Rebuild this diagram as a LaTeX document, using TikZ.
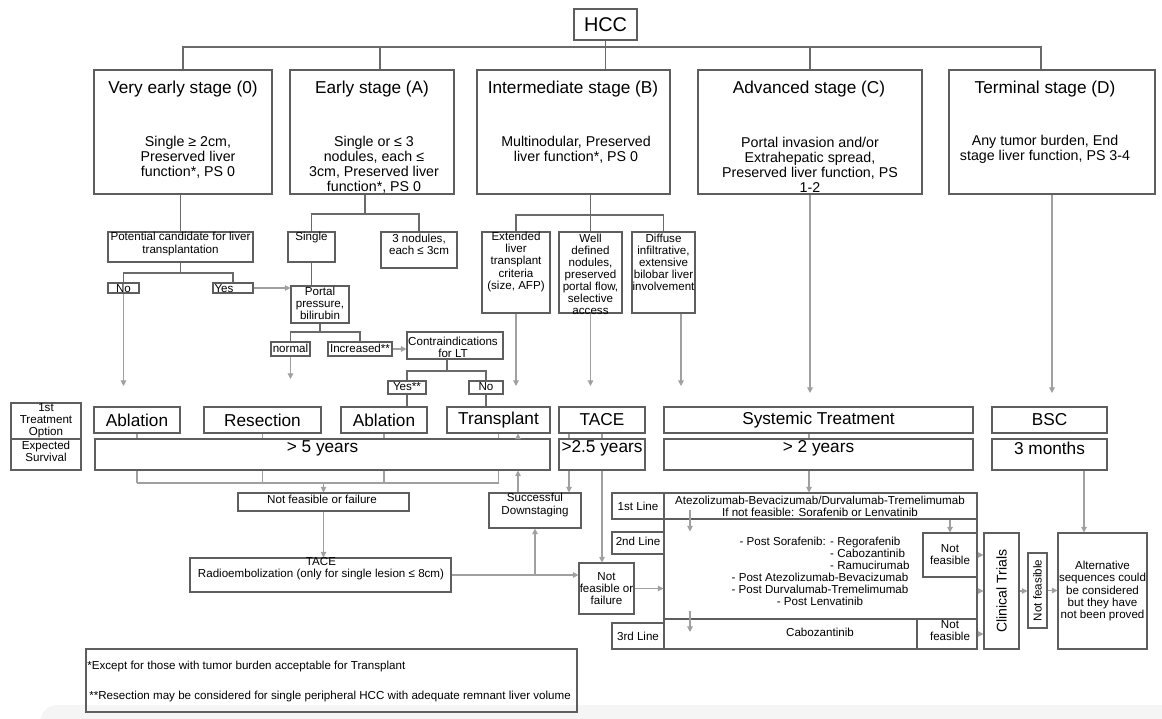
\documentclass[tikz,border=0pt]{standalone}
\usepackage{fontspec}
\setmainfont{Liberation Sans}
\usetikzlibrary{fit,arrows.meta}
\definecolor{boxline}{HTML}{5E5E5E}
\definecolor{treeline}{HTML}{6A6A6A}
\definecolor{arrline}{HTML}{A0A0A0}
\begin{document}
\begin{tikzpicture}[x=0.02cm, y=-0.02cm,
    box/.style={draw=boxline, line width=0.6pt, inner sep=0pt},
    txt/.style={inner sep=0pt, align=center},
    big/.style={txt, font=\fontsize{9.8}{11}\selectfont},
    mid/.style={txt, font=\fontsize{8.1}{8.5}\selectfont},
    sml/.style={txt, font=\fontsize{6.6}{6.85}\selectfont},
    tree/.style={draw=treeline, line width=0.6pt},
    ln/.style={draw=arrline, line width=0.6pt},
    arr/.style={draw=arrline, line width=0.6pt, -{Triangle[width=3.2pt,length=3.2pt]}}]
  \useasboundingbox (0,0) rectangle (1162,719);
  \begin{scope}
    \clip (0,0) rectangle (1162,719);
    \fill[black!4, rounded corners=10pt] (40,705) rectangle (1200,760);
  \end{scope}
  % helper levels
  \coordinate (bus) at (0,47);
  \coordinate (tips) at (0,386);
  \coordinate (tipsl) at (0,393);
  \coordinate (tipn) at (0,379);
  \coordinate (lowbus) at (0,483);
  \coordinate (survy) at (0,448);
  \coordinate (dAx) at (380,0);
  \coordinate (dDx) at (1041,0);

  % HCC and stages
  \node[box, fit={(574,9) (637,40)}] (hcc) {};
  \node[txt, font=\fontsize{11.3}{12}\selectfont] (hcct) at (hcc) {HCC};
  \node[box, fit={(94,70) (272,194)}] (s0) {};
  \node[box, fit={(290,70) (454,194)}] (sA) {};
  \node[box, fit={(477,70) (670,194)}] (sB) {};
  \node[box, fit={(698,70) (922,194)}] (sC) {};
  \node[box, fit={(949,70) (1155,194)}] (sD) {};
  \node[big] (s0t) at (183,89) {Very early stage (0)};
  \node[big] (sAt) at (372,89) {Early stage (A)};
  \node[big] (sBt) at (573,89) {Intermediate stage (B)};
  \node[big] (sCt) at (809,89) {Advanced stage (C)};
  \node[big] (sDt) at (1045,89) {Terminal stage (D)};
  \node[mid] (s0b) at (188,157) {Single ≥ 2cm,\\Preserved liver\\function*, PS 0};
  \node[mid] (sAb) at (374,165) {Single or ≤ 3\\nodules, each ≤\\3cm, Preserved liver\\function*, PS 0};
  \node[mid] (sBb) at (576,149.5) {Multinodular, Preserved\\liver function*, PS 0};
  \node[mid] (sCb) at (810,165) {Portal invasion and/or\\Extrahepatic spread,\\Preserved liver function, PS\\1-2};
  \node[mid] (sDb) at (1045,149.5) {Any tumor burden, End\\stage liver function, PS 3-4};
  \draw[tree] (s0.north) |- (hcc.south |- bus) -| (sD.north -| dDx);
  \draw[tree] (hcc.south) -- (hcc.south |- sB.north);
  \draw[tree] (sA.north -| dAx) -- (bus -| dAx);
  \draw[tree] (sC.north) -- (sC.north |- bus);

  % very early branch
  \node[box, fit={(108,232) (253,262)}] (pc) {};
  \node[sml] (pct) at (180.5,244) {Potential candidate for liver\\transplantation};
  \node[box, fit={(108,283) (139,293)}] (no1) {};
  \node[sml] (no1t) at (123.5,289) {No};
  \node[box, fit={(213,283) (253,293)}] (yes1) {};
  \node[sml] (yes1t) at (224,289) {Yes};
  \coordinate (pcb) at (0,273);
  \draw[tree] (pc.north) -- (pc.north |- s0.south);
  \draw[tree] (pc.south) -- (pc.south |- pcb);
  \draw[tree] (no1.north) |- (pcb -| pc.south) -| (yes1.north);
  \draw[arr] (no1.south) -- (no1.south |- tips);

  % early branch
  \node[box, fit={(288,232) (335,262)}] (single) {};
  \node[sml] (singlet) at (311.5,238) {Single};
  \node[box, fit={(381,232) (457,268)}] (n3) {};
  \node[sml] (n3t) at (419,244) {3 nodules,\\each ≤ 3cm};
  \coordinate (sAl) at (365,214);
  \draw[tree] (sA.south -| sAl) -- (sAl);
  \draw[tree] (single.north) |- (sAl) -| (n3.north);
  \node[box, fit={(291,286) (349,323)}] (portal) {};
  \node[sml] (portalt) at (320,303) {Portal\\pressure,\\bilirubin};
  \draw[tree] (single.south) -- (single.south |- portal.north);
  \draw[arr] (yes1.east) -- (yes1.east -| portal.west);
  \node[box, fit={(271,342) (310,356)}] (nrm) {};
  \node[sml] (nrmt) at (290.5,348) {normal};
  \node[box, fit={(328,342) (392,356)}] (inc) {};
  \node[sml] (inct) at (360,348) {Increased**};
  \coordinate (ptb) at (0,332);
  \draw[tree] (portal.south) -- (portal.south |- ptb);
  \draw[tree] (nrm.north) |- (ptb -| portal.south) -| (inc.north);
  \draw[arr] (nrm.south) -- (nrm.south |- tipn);
  \node[box, fit={(407,332) (503,359)}] (contra) {};
  \node[sml] (contrat) at (453,347.5) {Contraindications\\for LT};
  \draw[arr] (inc.east) -- (inc.east -| contra.west);
  \node[box, fit={(388,381) (426,394)}] (yes2) {};
  \node[sml] (yes2t) at (407,387) {Yes**};
  \node[box, fit={(469,381) (503,394)}] (no2) {};
  \node[sml] (no2t) at (486,387) {No};
  \coordinate (ctb) at (447,371);
  \draw[tree] (contra.south -| ctb) -- (ctb);
  \draw[tree] (yes2.north) |- (ctb) -| (no2.north);

  % intermediate branch
  \node[box, fit={(482,232) (550,313)}] (ext) {};
  \node[sml] (extt) at (516,262) {Extended\\liver\\transplant\\criteria\\(size, AFP)};
  \node[box, fit={(559,232) (622,313)}] (well) {};
  \node[sml] (wellt) at (590.5,274) {Well\\defined\\nodules,\\preserved\\portal flow,\\selective\\access};
  \node[box, fit={(632,232) (695,313)}] (dif) {};
  \node[sml] (dift) at (663.5,262) {Diffuse\\infiltrative,\\extensive\\bilobar liver\\involvement};
  \coordinate (sBl) at (0,215);
  \coordinate (difx) at (681,0);
  \draw[tree] (well.north) -- (well.north |- sB.south);
  \draw[tree] (ext.north) |- (sBl -| well.north) -| (dif.north);
  \draw[arr] (ext.south) -- (ext.south |- tips);
  \draw[arr] (well.south) -- (well.south |- tips);
  \draw[arr] (dif.south -| difx) -- (tips -| difx);
  \draw[arr] (sC.south) -- (sC.south |- tipsl);
  \draw[arr] (sD.south) -- (sD.south |- tipsl);

  % treatment and survival rows
  \node[box, fit={(11,403) (81,439)}] (opt) {};
  \node[sml] (optt) at (46,421) {1st\\Treatment\\Option};
  \node[box, fit={(11,439) (81,470)}] (exs) {};
  \node[sml] (exst) at (46,451) {Expected\\Survival};
  \node[box, fit={(94,407) (180,433)}] (abl1) {};
  \node[box, fit={(204,407) (321,433)}] (res) {};
  \node[box, fit={(341,407) (427,433)}] (abl2) {};
  \node[box, fit={(447,407) (550,433)}] (tx) {};
  \node[box, fit={(559,407) (645,433)}] (tace) {};
  \node[box, fit={(664,407) (973,433)}] (sys) {};
  \node[box, fit={(992,407) (1107,433)}] (bsc) {};
  \node[big] (abl1t) at (abl1) {Ablation};
  \node[big] (rest) at (res) {Resection};
  \node[big] (abl2t) at (abl2) {Ablation};
  \node[big] (txt) at (tx) {Transplant};
  \node[big] (tacet) at (tace) {TACE};
  \node[big] (syst) at (sys) {Systemic Treatment};
  \node[big] (bsct) at (bsc) {BSC};
  \node[box, fit={(95,439) (550,470)}] (y5) {};
  \node[box, fit={(559,439) (645,470)}] (y25) {};
  \node[box, fit={(664,439) (973,470)}] (y2) {};
  \node[box, fit={(992,439) (1107,470)}] (m3) {};
  \node[big] (y5t) at (y5 |- survy) {> 5 years};
  \node[big] (y25t) at (y25 |- survy) {>2.5 years};
  \node[big] (y2t) at (y2 |- survy) {> 2 years};
  \node[big] (m3t) at (m3 |- survy) {3 months};
  \draw[tree] (yes2.south) -- (yes2.south |- abl2.north);
  \draw[tree] (no2.south) -- (no2.south |- tx.north);
  \foreach \n in {abl1,res,abl2,tx} {
    \draw[ln] (\n.south) -- (\n.south |- y5.north);
    \draw[ln] (\n.south |- y5.south) -- (\n.south |- lowbus);
  }
  \draw[ln] (abl1.south |- lowbus) -- (tx.south |- lowbus);

  % after failure
  \node[box, fit={(238,493) (409,511)}] (nf1) {};
  \node[sml] (nf1t) at (322,499.5) {Not feasible or failure};
  \node[box, fit={(190,558) (451,592)}] (radio) {};
  \node[sml] (radiot) at (321,569) {TACE\\Radioembolization (only for single lesion ≤ 8cm)};
  \node[box, fit={(489,493) (581,528)}] (sd) {};
  \node[sml] (sdt) at (535,505) {Successful\\Downstaging};
  \node[box, fit={(579,563) (634,614)}] (nf2) {};
  \node[sml] (nf2t) at (606.5,589) {Not\\feasible or\\failure};
  \draw[arr] (nf1.north |- lowbus) -- (nf1.north);
  \draw[arr] (nf1.south) -- (nf1.south |- radio.north);
  \draw[arr] (radio.east) -- (radio.east -| nf2.west);
  \draw[arr] (radio.east -| sd.south) -- (sd.south);
  \coordinate (sdx) at (518,0);
  \draw[arr] (sd.north -| sdx) -- (y5.south -| sdx);
  \draw[arr] (y5.north -| sdx) -- (tx.south -| sdx);
  \coordinate (tcx) at (569,0);
  \draw[ln] (tace.south -| tcx) -- (y25.north -| tcx);
  \draw[arr] (y25.south -| tcx) -- (sd.north -| tcx);
  \draw[ln] (tace.south) -- (y25.north);
  \draw[arr] (y25.south) -- (y25.south |- nf2.north);

  % systemic lines
  \node[box, fit={(612,493) (664,519)}] (l1) {};
  \node[box, fit={(612,532) (664,554)}] (l2) {};
  \node[box, fit={(612,623) (664,649)}] (l3) {};
  \node[sml] (l1t) at (l1) {1st Line};
  \node[sml] (l2t) at (638,541) {2nd Line};
  \node[sml] (l3t) at (638,636) {3rd Line};
  \node[box, fit={(664,493) (977,519)}] (b1) {};
  \node[box, fit={(664,519) (977,619)}] (b2) {};
  \node[box, fit={(664,619) (977,649)}] (b3) {};
  \node[sml] (b1t) at (820,506) {Atezolizumab-Bevacizumab/Durvalumab-Tremelimumab\\If not feasible: Sorafenib or Lenvatinib};
  \node[sml] (b2t) at (820,571) {- Post Sorafenib: - Regorafenib\\
    \hphantom{- Post Sorafenib: }\rlap{- Cabozantinib}\hphantom{- Regorafenib}\\
    \hphantom{- Post Sorafenib: }\rlap{- Ramucirumab}\hphantom{- Regorafenib}\\
    - Post Atezolizumab-Bevacizumab\\- Post Durvalumab-Tremelimumab\\- Post Lenvatinib};
  \node[sml] (b3t) at (820,632) {Cabozantinib};
  \node[box, fit={(923,533) (977,577)}] (nfa) {};
  \node[sml] (nfat) at (nfa) {Not\\feasible};
  \node[box, fit={(917,619) (977,649)}] (nfb) {};
  \node[sml] (nfbt) at (950,631) {Not\\feasible};
  \node[box, fit={(984,533) (1019,649)}] (ct) {};
  \node[txt, font=\fontsize{8}{9}\selectfont, rotate=90] (ctt) at (ct) {Clinical Trials};
  \node[box, fit={(1028,553) (1047,628)}] (nfv) {};
  \node[sml, rotate=90] (nfvt) at (nfv) {Not feasible};
  \node[box, fit={(1058,533) (1147,649)}] (alt) {};
  \node[sml] (altt) at (alt) {Alternative\\sequences could\\be considered\\but they have\\not been proved};
  \coordinate (syx) at (809,0);
  \draw[ln] (sys.south -| syx) -- (y2.north -| syx);
  \draw[arr] (y2.south -| syx) -- (b1.north -| syx);
  \draw[arr] (nf2.east) -- (nf2.east -| b2.west);
  \coordinate (a1) at (690,510);
  \coordinate (a2) at (690,611);
  \draw[arr] (a1) -- (a1 |- l2.north);
  \draw[arr] (a2) -- (a2 |- b3t);
  \draw[arr] (b1.south -| nfa.north) -- (nfa.north);
  \draw[arr] (nfa.east) -- (nfa.east -| ct.west);
  \draw[arr] (ct.west -| b2.east) -- (ct.west);
  \draw[arr] (nfb.east) -- (nfb.east -| ct.west);
  \draw[arr] (ct.east) -- (ct.east -| nfv.west);
  \draw[arr] (nfv.east) -- (nfv.east -| alt.west);
  \coordinate (altx) at (1084,0);
  \draw[arr] (m3.south -| altx) -- (alt.north -| altx);

  % notes
  \node[box, fit={(86,649) (577,712)}] (fn) {};
  \node[sml, anchor=west] (fn1) at (87,666) {*Except for those with tumor burden acceptable for Transplant};
  \node[sml, anchor=west] (fn2) at (89,696) {**Resection may be considered for single peripheral HCC with adequate remnant liver volume};
\end{tikzpicture}
\end{document}
